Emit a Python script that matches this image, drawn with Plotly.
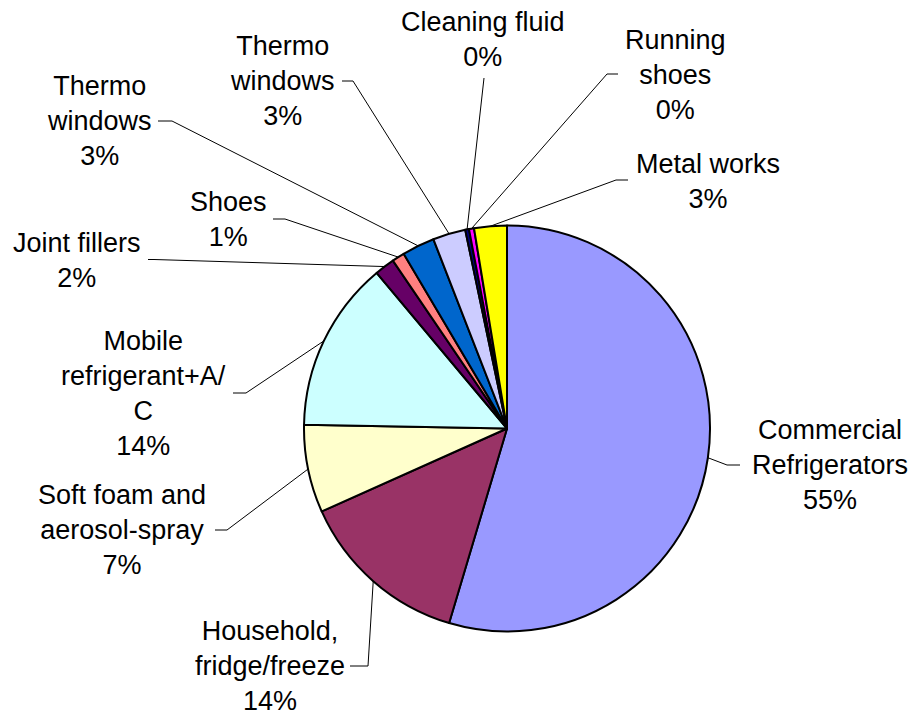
import math
import plotly.graph_objects as go

# Sources, in clockwise order starting at 12 o'clock
categories = [
    "Commercial<br>Refrigerators",
    "Household,<br>fridge/freeze",
    "Soft foam and<br>aerosol-spray",
    "Mobile<br>refrigerant+A/<br>C",
    "Joint fillers",
    "Shoes",
    "Thermo<br>windows",
    "Thermo<br>windows",
    "Cleaning fluid",
    "Running<br>shoes",
    "Metal works",
]
shares = [54.6, 13.7, 7.0, 13.6, 1.6, 1.0, 2.6, 2.6, 0.3, 0.4, 2.6]
colors = ["#9999FF", "#993366", "#FFFFCC", "#CCFFFF", "#660066", "#FF8080",
          "#0066CC", "#CCCCFF", "#000080", "#FF00FF", "#FFFF00"]

W, H = 916, 715
CX, CY, R = 507.0, 428.5, 203.0  # pie centre and radius in pixels

# label block centres and leader-line elbow / end points (pixels)
label_pos = [(830, 465), (270, 666), (122, 530), (143, 393), (77, 260), (228, 219),
             (99, 121), (282, 81), (483, 39), (675, 75), (708, 181)]
leader_elbow = [(727, 465), (368, 666), (227, 530), (246, 393), (154, 259.5), (285, 219),
                (172, 121), (353, 81), (484, 78), (607, 74), (616, 180)]
leader_end = [(740, 465), (350, 666), (215, 530), (233, 393), (148, 259.5), (273, 219),
              (158, 121), (342, 81), (484, 78), (618, 74), (628, 180)]


def px(x):
    return x / W


def py(y):
    return 1 - y / H


fig = go.Figure(go.Pie(
    values=shares,
    labels=[f"s{i}" for i in range(len(shares))],
    sort=False,
    direction="clockwise",
    rotation=0,
    marker=dict(colors=colors, line=dict(color="black", width=2)),
    textinfo="none",
    hoverinfo="skip",
    domain=dict(x=[px(CX - R), px(CX + R)], y=[py(CY + R), py(CY - R)]),
))

total = sum(shares)
shapes = []
annotations = []
cum = 0.0
for i, v in enumerate(shares):
    mid = (cum + v / 2) / total * 2 * math.pi
    cum += v
    rx = CX + R * math.sin(mid)
    ry = CY - R * math.cos(mid)
    ex, ey = leader_elbow[i]
    tx, ty = leader_end[i]
    shapes.append(dict(
        type="path", xref="paper", yref="paper",
        path=f"M {px(rx)} {py(ry)} L {px(ex)} {py(ey)} L {px(tx)} {py(ty)}",
        line=dict(color="black", width=1),
    ))
    pct = v / total * 100
    lx, ly = label_pos[i]
    annotations.append(dict(
        x=px(lx), y=py(ly), xref="paper", yref="paper",
        xanchor="center", yanchor="middle", align="center",
        text=f"{categories[i]}<br>{pct:.0f}%",
        showarrow=False,
        font=dict(family="Liberation Sans, Arial, sans-serif", size=27, color="black"),
    ))

fig.update_layout(
    width=W, height=H,
    margin=dict(l=0, r=0, t=0, b=0),
    paper_bgcolor="white",
    plot_bgcolor="white",
    showlegend=False,
    shapes=shapes,
    annotations=annotations,
)

fig.write_html("out.html")
